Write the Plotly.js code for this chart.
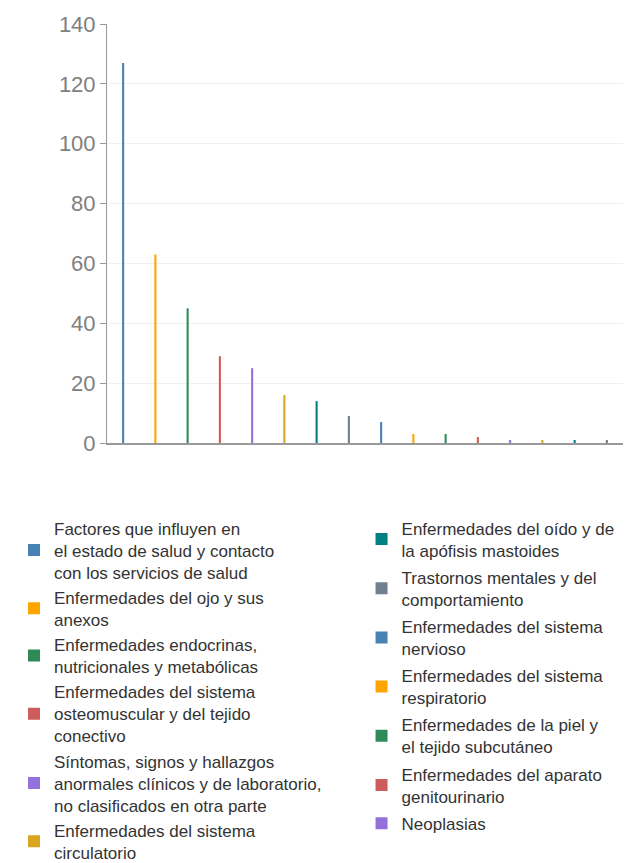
<!DOCTYPE html>
<html>
<head>
<meta charset="utf-8">
<script src="https://cdn.plot.ly/plotly-3.0.1.min.js"></script>
<style>html,body{margin:0;padding:0;background:#fff;}#chart{width:628px;height:863px;}</style>
</head>
<body>
<div id="chart"></div>
<script>
var categories = [
  "Factores que influyen en<br>el estado de salud y contacto<br>con los servicios de salud",
  "Enfermedades del ojo y sus<br>anexos",
  "Enfermedades endocrinas,<br>nutricionales y metabólicas",
  "Enfermedades del sistema<br>osteomuscular y del tejido<br>conectivo",
  "Síntomas, signos y hallazgos<br>anormales clínicos y de laboratorio,<br>no clasificados en otra parte",
  "Enfermedades del sistema<br>circulatorio",
  "Enfermedades del oído y de<br>la apófisis mastoides",
  "Trastornos mentales y del<br>comportamiento",
  "Enfermedades del sistema<br>nervioso",
  "Enfermedades del sistema<br>respiratorio",
  "Enfermedades de la piel y<br>el tejido subcutáneo",
  "Enfermedades del aparato<br>genitourinario",
  "Neoplasias",
  "Categoría 14",
  "Categoría 15",
  "Categoría 16"
];
var values = [127, 63, 45, 29, 25, 16, 14, 9, 7, 3, 3, 2, 1, 1, 1, 1];
var palette = ["#4682b4", "#ffa500", "#2e8b57", "#cd5c5c", "#9370db", "#daa520", "#008080", "#708090"];
var yTicks = [0, 20, 40, 60, 80, 100, 120, 140];

var traces = categories.map(function (name, i) {
  return {
    type: "bar",
    name: name,
    x: [i],
    y: [values[i]],
    width: 0.065,
    marker: { color: palette[i % palette.length], line: { width: 0 } },
    legend: i < 6 ? "legend" : "legend2",
    legendgroup: "g" + i,
    showlegend: i < 13,
    hovertemplate: "%{y}<extra></extra>"
  };
});

var legendCommon = {
  font: { size: 17, color: "#333" },
  bgcolor: "rgba(0,0,0,0)",
  xref: "container",
  yref: "container",
  yanchor: "top",
  xanchor: "left"
};

var layout = {
  width: 628,
  height: 863,
  margin: { l: 107, r: 5, t: 24, b: 420, autoexpand: false },
  paper_bgcolor: "#ffffff",
  plot_bgcolor: "#ffffff",
  font: { family: "Liberation Sans, Arial, sans-serif", color: "#333" },
  barmode: "overlay",
  showlegend: true,
  xaxis: {
    range: [-0.5, 15.5],
    showticklabels: false,
    ticks: "",
    showgrid: false,
    zeroline: false,
    showline: true,
    linecolor: "#999",
    linewidth: 1.5,
    fixedrange: true
  },
  yaxis: {
    range: [0, 140],
    tickvals: yTicks,
    ticktext: yTicks.map(String),
    ticks: "outside",
    ticklen: 6,
    tickcolor: "#999",
    tickfont: { size: 22, color: "#808080" },
    showgrid: true,
    gridcolor: "#f0f0f0",
    zeroline: false,
    showline: true,
    linecolor: "#999",
    linewidth: 1,
    fixedrange: true
  },
  legend: Object.assign({}, legendCommon, { x: 0.0223, y: 0.4086, traceorder: "normal" }),
  legend2: Object.assign({}, legendCommon, { x: 0.5757, y: 0.4086, traceorder: "grouped", tracegroupgap: 2 })
};

Plotly.newPlot("chart", traces, layout, { displayModeBar: false, staticPlot: true });
</script>
</body>
</html>
